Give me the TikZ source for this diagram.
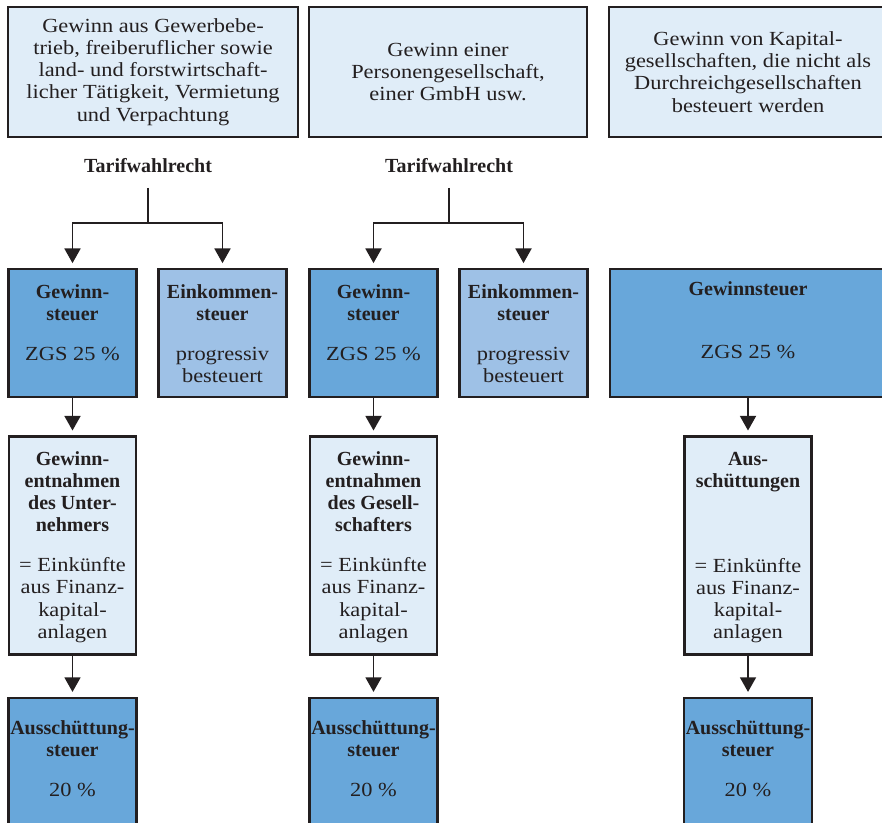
\documentclass[tikz,border=0pt]{standalone}
\usepackage{fontspec}
\setmainfont{Liberation Serif}[FakeStretch=1.12, BoldFeatures={FakeStretch=1.0}]
\usetikzlibrary{positioning, arrows.meta}

\definecolor{boxline}{HTML}{231F20}
\definecolor{paleblue}{HTML}{E0EDF8}
\definecolor{midblue}{HTML}{68A7DA}
\definecolor{softblue}{HTML}{9EC1E6}

\begin{document}
\begin{tikzpicture}[
        x=0.75pt, y=-0.75pt,
        every node/.style={font=\fontsize{15}{16.6}\selectfont, text=boxline},
        src/.style={draw=boxline, line width=1.8pt, fill=paleblue, align=center, minimum height=97.5pt},
        tax/.style={draw=boxline, line width=1.8pt, fill=#1, inner sep=0pt},
        tarif/.style={font=\fontsize{15}{16.6}\selectfont\bfseries, inner sep=0pt, outer sep=11pt},
        conn/.style={draw=boxline, line width=1.4pt},
        arr/.style={conn, -{Triangle[width=12pt, length=11pt]}, shorten >=3.5pt}
    ]
        \def\gapA{27.75pt}
        \def\gapB{30.75pt}
        % box text: width, height, first baseline, lines
        \newcommand{\cell}[4]{\parbox[c][#2][t]{#1}{\centering\rule{0pt}{#3}#4}}
        \newcommand{\head}[1]{\mbox{\bfseries #1}}

        \useasboundingbox (0,0) rectangle (882,822);
        \clip (0,0) rectangle (882,822);

        % sources
        \node[src, minimum width=217.5pt] (unt) at (153,72) {Gewinn aus Gewerbebe-\\trieb, freiberuflicher sowie\\land- und forstwirtschaft-\\licher Tätigkeit, Vermietung\\und Verpachtung};
        \node[src, minimum width=208.5pt] (pers) at (448,72) {Gewinn einer\\Personengesellschaft,\\einer GmbH usw.};
        \node[src, minimum width=208.5pt] (kap) at (748,72) {Gewinn von Kapital-\\gesellschaften, die nicht als\\Durchreichgesellschaften\\besteuert werden};

        \node[tarif] (tarif1) at (148,166) {Tarifwahlrecht};
        \node[tarif] (tarif2) at (449,166) {Tarifwahlrecht};
        \coordinate (fork1) at (148,223);
        \coordinate (fork2) at (449,223);

        % taxes on profit
        \node[tax=midblue] (gst1) at (72.5,333) {\cell{96pt}{96pt}{21.75pt}{\head{Gewinn-}\\\head{steuer}\\[13.4pt]ZGS 25~\%}};
        \node[tax=softblue] (est1) at (222.5,333) {\cell{96pt}{96pt}{21.75pt}{\head{Einkommen-}\\\head{steuer}\\[13.4pt]progressiv\\besteuert}};
        \node[tax=midblue] (gst2) at (373.5,333) {\cell{96pt}{96pt}{21.75pt}{\head{Gewinn-}\\\head{steuer}\\[13.4pt]ZGS 25~\%}};
        \node[tax=softblue] (est2) at (523.5,333) {\cell{96pt}{96pt}{21.75pt}{\head{Einkommen-}\\\head{steuer}\\[13.4pt]progressiv\\besteuert}};
        \node[tax=midblue] (gst3) at (748,333) {\cell{207pt}{96pt}{20pt}{\head{Gewinnsteuer}\\[30.6pt]ZGS 25~\%}};

        % withdrawals
        \node[tax=paleblue, below=\gapA of gst1] (ent1) {\cell{95pt}{163.5pt}{21.75pt}{\head{Gewinn-}\\\head{entnahmen}\\\head{des Unter-}\\\head{nehmers}\\[13.4pt]= Einkünfte\\aus Finanz-\\kapital-\\anlagen}};
        \node[tax=paleblue, below=\gapA of gst2] (ent2) {\cell{95pt}{163.5pt}{21.75pt}{\head{Gewinn-}\\\head{entnahmen}\\\head{des Gesell-}\\\head{schafters}\\[13.4pt]= Einkünfte\\aus Finanz-\\kapital-\\anlagen}};
        \node[tax=paleblue, below=\gapA of gst3] (ent3) {\cell{95pt}{163.5pt}{21.75pt}{\head{Aus-}\\\head{schüttungen}\\[47pt]= Einkünfte\\aus Finanz-\\kapital-\\anlagen}};

        % distribution tax
        \node[tax=midblue, below=\gapB of ent1] (ast1) {\cell{96pt}{96pt}{27.75pt}{\head{Ausschüttung-}\\\head{steuer}\\[13.4pt]20~\%}};
        \node[tax=midblue, below=\gapB of ent2] (ast2) {\cell{96pt}{96pt}{27.75pt}{\head{Ausschüttung-}\\\head{steuer}\\[13.4pt]20~\%}};
        \node[tax=midblue, below=\gapB of ent3] (ast3) {\cell{96pt}{96pt}{27.75pt}{\head{Ausschüttung-}\\\head{steuer}\\[13.4pt]20~\%}};

        \draw[conn] (tarif1) -- (fork1);
        \draw[conn] (tarif2) -- (fork2);
        \draw[arr] (fork1) -| (gst1);
        \draw[arr] (fork1) -| (est1);
        \draw[arr] (fork2) -| (gst2);
        \draw[arr] (fork2) -| (est2);
        \draw[arr] (gst1) -- (ent1);
        \draw[arr] (gst2) -- (ent2);
        \draw[arr] (gst3) -- (ent3);
        \draw[arr] (ent1) -- (ast1);
        \draw[arr] (ent2) -- (ast2);
        \draw[arr] (ent3) -- (ast3);
\end{tikzpicture}
\end{document}
